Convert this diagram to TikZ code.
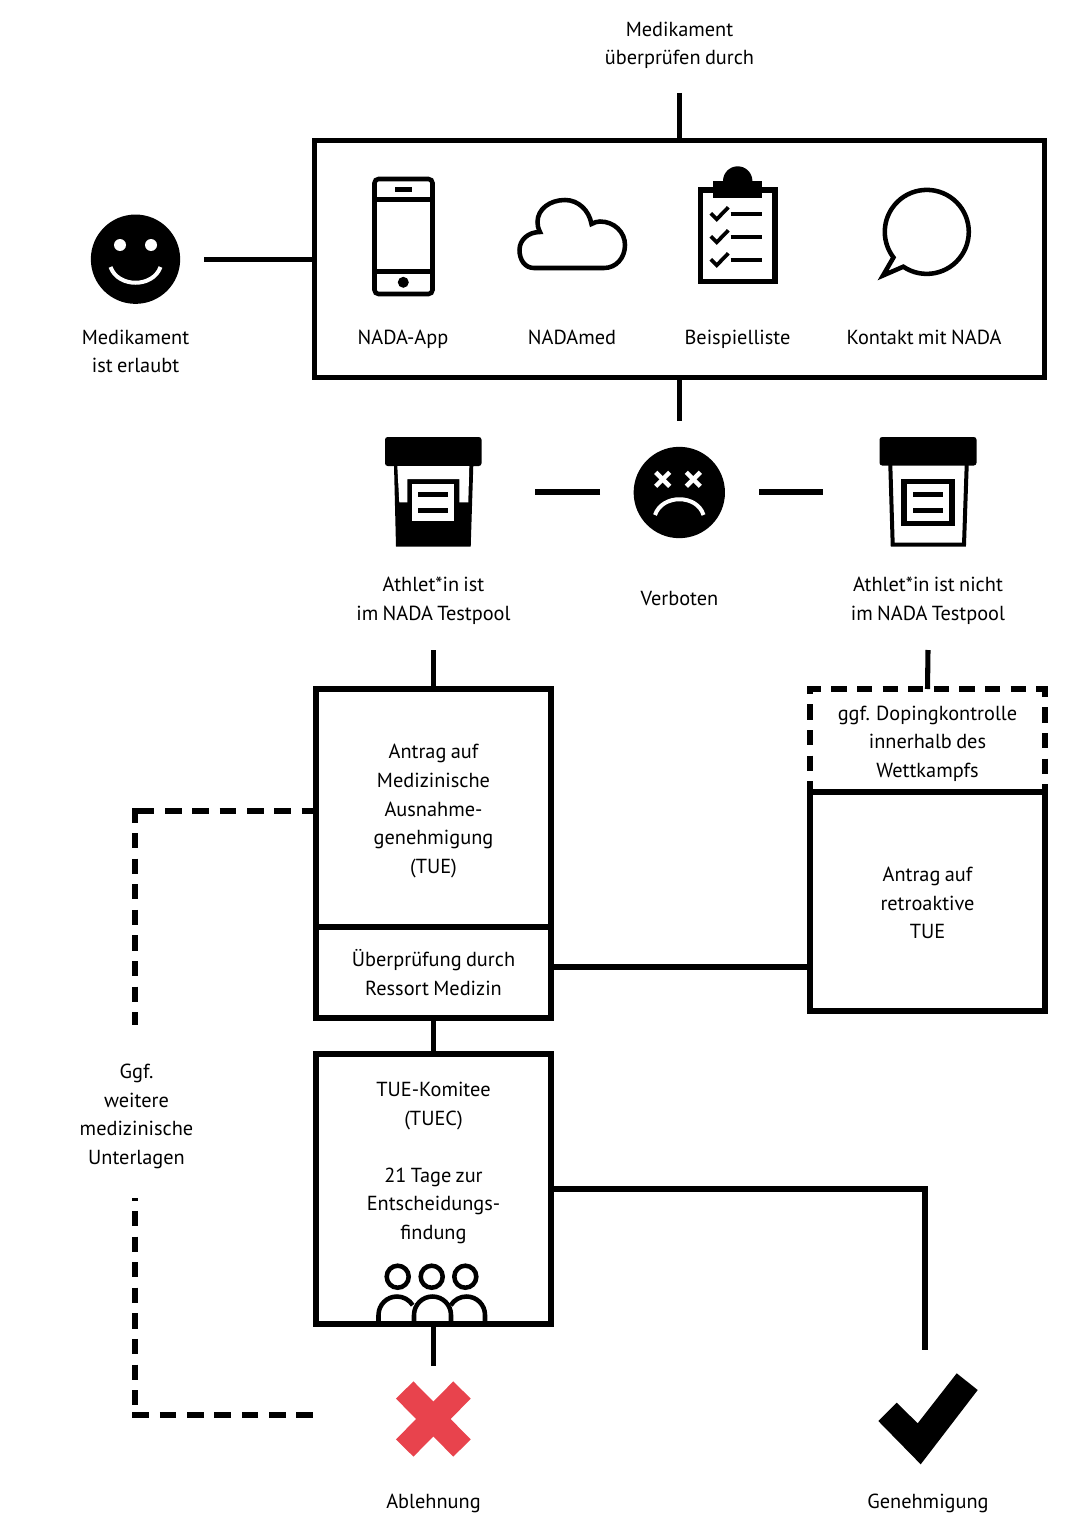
\documentclass[tikz,border=0pt]{standalone}
\usepackage{fontspec}
\setmainfont{PT Sans}[WordSpace=0.8]
\usepackage{tikz}
\usetikzlibrary{positioning}
\definecolor{rejectred}{HTML}{E8434D}

\tikzset{
    link/.style={line width=3.8pt},
    dashv/.style={link,dash pattern=on 11.4pt off 7.8pt},
    dashh/.style={link,dash pattern=on 12.4pt off 8.1pt},
    stepbox/.style={draw,line width=3.8pt,inner sep=0pt,outer sep=0pt,align=center},
    lbl/.style={inner sep=0pt,align=center,font=\fontsize{15.25}{21.4}\selectfont},
    oneline/.style={lbl,text height=11pt,text depth=0.5pt},
    face/.style={circle,fill=black,inner sep=0pt,outer sep=0pt},
    icon/.style={line width=3.4pt},
    thinicon/.style={line width=3pt,white}
}

\begin{document}
\begin{tikzpicture}[x=0.75pt,y=-0.75pt]
\useasboundingbox (0,0) rectangle (1073,1516);

% =============================
% 0. Check the medication
% =============================
\node[lbl] (checklbl) at (679.5,45.5) {Medikament\\überprüfen durch};
\coordinate (checktop) at (679.5,93);
\node[stepbox,minimum width=547.1pt,minimum height=177.75pt] (tools) at (679.5,259.3) {};
\draw[link] (checktop) -- (tools.north);

\node[oneline] (applbl) at (403,337) {NADA-App};
\node[oneline] (medlbl) at (572,337) {NADAmed};
\node[oneline] (listlbl) at (737.5,337) {Beispielliste};
\node[oneline] (contactlbl) at (924,337) {Kontakt mit NADA};

% phone
\draw[icon,rounded corners=3pt] (374.5,179) rectangle (432.5,294);
\draw[icon] (374.5,199.7) -- (432.5,199.7);
\draw[icon] (374.5,271.7) -- (432.5,271.7);
\fill (395,186.5) rectangle (412,191.5);
\fill (403.3,282.3) circle (5.5);

% cloud
\draw[icon] (534,268) .. controls (525,268) and (519.5,260) .. (519.5,250)
    .. controls (519.5,240) and (528,232) .. (540,232)
    .. controls (538,228) and (537.5,225) .. (537.5,222)
    .. controls (537.5,209) and (550,200) .. (565,200)
    .. controls (578,200) and (589,210) .. (591.5,224)
    .. controls (594,222.5) and (597,221.5) .. (600,221.5)
    .. controls (614,221.5) and (625,232) .. (625,245)
    .. controls (625,258) and (616,268) .. (604,268) -- cycle;

% clipboard
\draw[link] (700.5,190) rectangle (775,281.5);
\fill (713,180.7) rectangle (762.3,197.7);
\fill (723,181) arc[start angle=180,end angle=360,radius=14.7] -- cycle;
\foreach \rowy in {214.3,237.3,260.3} {
    \draw[line width=2.8pt] (710.7,\rowy-1) -- (716.7,\rowy+5) -- (728.3,\rowy-7);
    \draw[line width=3pt] (730.7,\rowy) -- (761.7,\rowy);
}

% speech bubble
\draw[icon,miter limit=10] (903.3,266.7) arc[start angle=124,end angle=-217.5,radius=42]
    -- (883,275.5) -- cycle;

% =============================
% 1. Allowed / forbidden
% =============================
\node[face,minimum size=67pt] (smile) at (135.5,259.2) {};
\fill[white] (120,245) circle (6);
\fill[white] (151,245) circle (6);
\draw[white,line width=3pt] (110.5,267) .. controls (118,288) and (153,288) .. (160.5,267);
\node[lbl] (smilelbl) at (135.5,351.5) {Medikament\\ist erlaubt};
\coordinate (smileend) at (204,259.3);
\draw[link] (smileend) -- (tools.west);

\node[face,minimum size=68.5pt] (sad) at (679.3,492.5) {};
\draw[thinicon,line width=3.4pt] (655.7,472.3) -- (669.7,486.3);
\draw[thinicon,line width=3.4pt] (669.7,472.3) -- (655.7,486.3);
\draw[thinicon,line width=3.4pt] (686.3,472.3) -- (700.3,486.3);
\draw[thinicon,line width=3.4pt] (700.3,472.3) -- (686.3,486.3);
\draw[thinicon] (655,515) .. controls (662,494) and (697,494) .. (703.5,515);
\node[oneline] (sadlbl) at (679.5,598) {Verboten};

\coordinate (sadtop) at (679.5,421);
\draw[link] (tools.south) -- (sadtop);
\coordinate (leftfrom) at (600,492);
\coordinate (leftto) at (535,492);
\coordinate (rightfrom) at (759,492);
\coordinate (rightto) at (823,492);
\draw[link] (leftfrom) -- (leftto);
\draw[link] (rightfrom) -- (rightto);

% =============================
% 2. Sample cups
% =============================
% in the testpool
\fill[rounded corners=2pt] (385,466) |- (481.5,437) -- (481.5,466) -- cycle;
\fill (394,465) -- (473.3,465) -- (470.7,546.7) -- (396,546.7) -- cycle;
\fill[white] (397.3,466) -- (469.3,466) -- (468.3,502.3) -- (459.3,502.3) -- (459.3,479)
    -- (407.3,479) -- (407.3,502.3) -- (399.3,502.3) -- cycle;
\fill[white] (412.3,484.3) rectangle (454.3,520.7);
\fill (418.3,491.7) rectangle (448.3,496.7);
\fill (418.3,508.3) rectangle (448.3,513.3);
\node[lbl] (poollbl) at (433.5,600.5) {Athlet*in ist\\im NADA Testpool};

% not in the testpool
\fill[rounded corners=2pt] (879.5,465.5) |- (976.5,437) -- (976.5,465.5) -- cycle;
\draw[line width=3pt] (890.3,465) -- (892.7,544.7) -- (964,544.7) -- (966.7,465);
\draw[link] (904,481.5) rectangle (952,523.3);
\fill (912.7,491.7) rectangle (943.3,496.7);
\fill (912.7,508) rectangle (943.3,513);
\node[lbl] (nopoollbl) at (928,600.5) {Athlet*in ist nicht\\im NADA Testpool};

% =============================
% 3. Left column
% =============================
\coordinate (pooldown) at (433.5,650);
\node[stepbox,minimum width=176.25pt,minimum height=178.5pt] (tue) at (433.5,808) {};
\node[lbl] (tuelbl) at (433.5,811)
    {Antrag auf\\Medizinische\\Ausnahme-\\genehmigung\\(TUE)};
\node[stepbox,minimum width=176.25pt,minimum height=68.25pt] (review) at (433.5,972.5) {};
\node[lbl] (reviewlbl) at (433.5,972.5) {Überprüfung durch\\Ressort Medizin};
\node[stepbox,minimum width=176.25pt,minimum height=202.5pt] (tuec) at (433.5,1189) {};
\node[lbl] (tueclbl) at (433.5,1163)
    {TUE-Komitee\\(TUEC)\\\mbox{}\\21 Tage zur\\Entscheidungs-\\findung};
\draw[link] (pooldown) -- (tue.north);
\draw[link] (review.south) -- (tuec.north);

% people
\foreach \headx in {397.7,431.7,465.3} {
    \draw[icon] (\headx,1276.7) circle (11);
}
\draw[icon] (378.5,1324) -- (378.5,1315) arc[start angle=180,end angle=328,radius=18.5];
\draw[icon] (414,1324) -- (414,1315) arc[start angle=180,end angle=360,radius=18.5] -- (451,1324);
\draw[icon] (485,1324) -- (485,1315) arc[start angle=360,end angle=212,radius=18.5];

% =============================
% 4. Right column
% =============================
\coordinate (nopooldown) at (928,650);
\node[inner sep=0pt,outer sep=0pt,minimum width=176.25pt,minimum height=77.25pt] (doping) at (927.5,740.5) {};
\node[lbl] (dopinglbl) at (927.5,743.5) {ggf. Dopingkontrolle\\innerhalb des\\Wettkampfs};
\draw[dashv,dash phase=5.7pt] ([yshift=1.9pt]doping.north west) -- (doping.south west);
\draw[dashv,dash phase=3.5pt] ([yshift=1.9pt]doping.north east) -- (doping.south east);
\draw[dashv,dash phase=1.2pt] ([xshift=-1.9pt]doping.north west) -- ([xshift=1.9pt]doping.north east);
\node[stepbox,minimum width=176.25pt,minimum height=164.25pt] (retro) at (927.5,901.5) {};
\node[lbl] (retrolbl) at (927.5,903) {Antrag auf\\retroaktive\\TUE};
\draw[link] (nopooldown) -- (doping.north);
\coordinate (reviewlink) at (680,967);
\draw[link] (review.east |- reviewlink) -- (retro.west |- reviewlink);

% =============================
% 5. Decision
% =============================
\coordinate (nodown) at (433.5,1366);
\draw[link] (tuec.south) -- (nodown);
\draw[rejectred,line width=18.4pt] (404.7,1390) -- (462,1448);
\draw[rejectred,line width=18.4pt] (462,1390) -- (404.7,1448);
\node[oneline] (nolbl) at (433.5,1501) {Ablehnung};

\coordinate (yesdown) at (925,1350);
\draw[link,line join=miter] (tuec.east) -- (yesdown |- tuec.east) -- (yesdown);
\fill (878.3,1421) -- (896.7,1402.7) -- (917.7,1423.3) -- (956.7,1373.3)
    -- (977.7,1390) -- (920.7,1464.3) -- cycle;
\node[oneline] (yeslbl) at (928,1501) {Genehmigung};

% =============================
% 6. Further documents
% =============================
\node[lbl] (morelbl) at (136.5,1116.5) {Ggf.\\weitere\\medizinische\\Unterlagen};
\coordinate (morea) at (135,811);
\coordinate (moreb) at (135,1025);
\coordinate (morec) at (135,1198);
\coordinate (mored) at (135,1415);
\draw[dashh,dash phase=18.45pt] (morea) -- (tue.west |- morea);
\draw[dashv,dash phase=.75pt] ([yshift=1.9pt]morea) -- (moreb);
\draw[dashv,dash phase=9.5pt] (morec) -- (mored);
\draw[dashh] ([xshift=-1.9pt]mored) -- (tue.west |- mored);
\end{tikzpicture}
\end{document}
